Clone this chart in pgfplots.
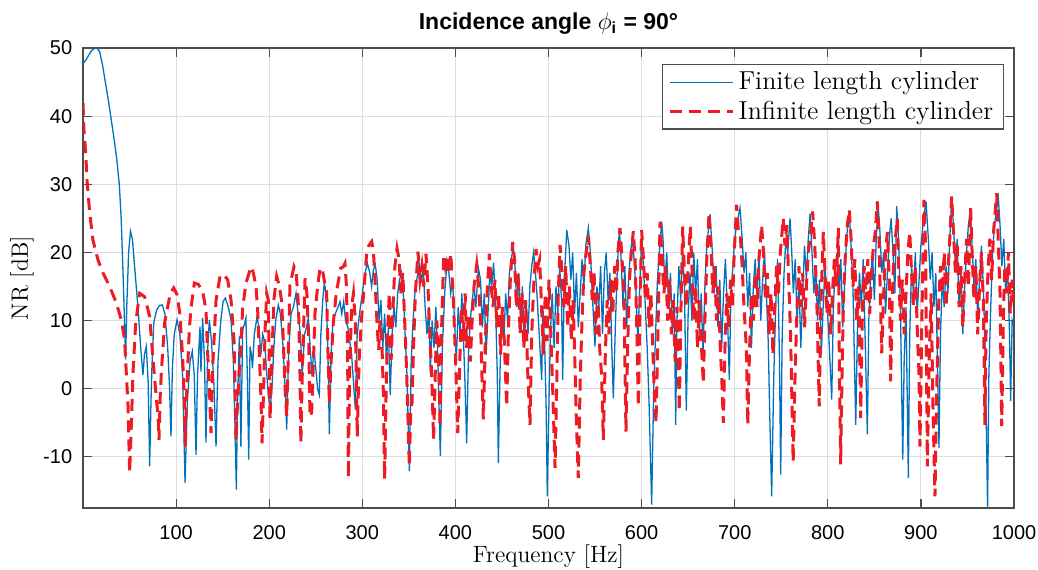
\documentclass[border=0pt]{standalone}
\usepackage{pgfplots}
\pgfplotsset{compat=1.18}
\usepackage{pgfplotstable}
\usepackage{amsmath}
\usepackage{fontspec}
\newfontfamily\hel{Liberation Sans}
\definecolor{mblue}{rgb}{0,0.447,0.741}
\definecolor{mred}{RGB}{237,28,36}
\begin{document}
\pgfplotstableread{
f y
0 47.7
3 48.2
6 48.9
9 49.6
12 49.9
15 50.0
18 49.4
21 47.5
24 45.0
27 42.5
30 39.8
33 37.0
36 34.0
39 30.0
41 25
43 17
45 8
45.8 4.3
47 12
49 20
51 23.1
53 22
56 17
59 12
62 6
64.4 2.0
66 5
68 6.2
70 1
71.6 -11.4
73 -2
74 3
76 9.7
79 11.5
82 12.2
85.2 12.3
88 11
91 6
93 0
94.5 -7.0
96 3
98 8
101 10.1
104 8
107 2
109.6 -13.8
112 -2
115 4
117.4 5.5
119.5 2
121.4 -9.7
123 2
125.7 9.1
126.7 2.5
128.5 10.4
130.5 4
132.1 -7.9
134 6
135.7 10.1
138 7
140.5 1
142.9 -8.5
145 4
148 10
150.5 12.8
152.9 13.3
156 12
159 10.1
161.5 4
163 -4
164.7 -14.8
166 -2
167.9 7.7
169.6 -8.5
171.5 8.7
173.5 9.5
175 10.4
176.5 2
178 -10.4
179.4 6.2
181 5
182 3
184 8
186.9 10.5
189 9
191 5
193 8
195 7
197 3
199 -1
201 -3
203 0.3
205 6
207 10
209.8 12.3
212 11
214.5 7
216.5 2
218.8 -6.0
221 6
223.5 11
226 12
228.8 14.0
231 11
233.5 8
235.5 2
238 8
240 9
242 10.4
244 6
246 2
248 6
250 3
252 0
253.8 -0.9
255.5 8
257.5 13
259.2 15.6
261 14
263 6
264.6 -6.7
266.5 5
268.5 10
271 11
274 12
276 12.8
278 11
280 12.8
282 10
284.5 9
286.5 7
288.5 5
290.5 1
292.5 -3
294.5 8
297 11
300 14
303 17
305.5 18.4
308 17
310 15
312 17.5
314 18.2
316 16
318 10
320 13
322 6
324 11
326 4
328 9
330 -0.9
332 8
334 12
336 9
338 14
340 16
342 17
344 14
346 8
348 2
350.5 -12.1
352.5 4
354.5 10
356.5 14
358.5 16
361.3 18.2
363.5 16
365.5 17.4
367.5 12
369.5 8
371.5 12
373 2.3
375 10
377 6
379 12
381 5
383.8 -9.9
386 6
388.5 14
391 18.7
393 17
395 14
397 16
399 10
401 4
403 12
405 8
407 14
409 6
410.5 0
412.1 -8
414 5
416 10
418 13
420 15
422 12
424.6 17.7
427 16
429 9
431 14
433 5
435 11
437 17
439 15
441 18.5
443 13
445 2
446.1 -10.9
448 3
450 11
452 7
454 14
456 10
458 17
460 19
462.2 20.9
464 18
466 12
468 17
470 10
472 15
474 6
476 13
478 8
480 15
482 18
484 20
486 17
488 13
490 8
492.7 1.3
494 12
496 6
497.5 -3
498.7 -15.8
500.5 -2
502 8
504 14
506 6
508 15
510 11
512 18
514 13
515.2 1.3
517 16
519.6 23.3
522 21
524 16
526 20
528 11
530 17
532 9
534 14
536 19
538 15
540 21
542.8 23.6
545 20
547 14
549.9 6.2
552 15
554 12
556 18
558 8
560 17
562 20
564 13
566 17
568 6
569.6 -1.4
572 10
574 18
576.1 23.5
578 19
580 12
582 18
584 9
586 16
588 20
590 22
592 19
594 14
596 7
598 15
600 22
602 18
604 12
606 6
608 -2
610.8 -17
613 0
615 8
617 16
619 20
621.6 24.5
623 22
625 15
627 20
629 12
631 17
633 8
635 14
636.6 -5.3
638 10
640 18
642 13
644 20
646 15
648 -3.2
650 11
652 17
654 10
656 20
658 14
660 19
662 8
664 14
666 5
668 15
670 21
673.5 25.6
676 20
678 14
680 18
682 9
684 16
686 6
688 14
690 19
692 12
694.2 1.3
696 14
698 18
700 22
702 24
705.7 26.5
708 22
710 17
712 20
714 12
716 17
718 6
720 15
722 19
724 13
726 20
728 10
730 16
732 20
734 14
736 7
737.5 -3
739.7 -15.8
742 2
744 12
746 19
748 5
749.4 -12.6
751 8
753 17
755 22
757 20
759.4 25
761 21
763 14
765 19
767 10
769 16
771 6
773 14
775 21
777 16
779 22
781 25.7
783 20
785 14
787 18
789 10
791 16
793 5
795 12
797 18
799 13
801 8
804.2 -1.6
806 12
808 18
810 20
812 14
814 19
816 9
818 15
820 22
823 26
825 21
827 15
830 -5.3
832 10
834 17
836 12
838 19
840 8
842.5 -6.7
844 10
846 16
848 20
850 13
852 22
854 27
856 23
858 17
860 20
862 11
864 17
866 22
868 25
870 20
872 14
874 26.8
876 22
878 12
880.5 -10.4
882 4
884 12
886.5 -13.1
888 8
890 18
892 14
894 20
896 11
898 16
900 21
903 25
905.5 27.5
908 22
910 16
912 20
914 12
916 17
919.4 -8.7
921 8
923 16
925 12
927 18
929 14
931 22
933 27.7
935 24
937 18
939 22
941 12
943 17
945 8
947 15
949 20
951 24
953 26
955 21
957 15
959 19
961 10
963 16
965 21
967 15
969 6
971.6 -17.5
973 2
975 12
977 20
979 24
981 26
983.2 28
985 24
987 18
989 22
991 14
993 18
995 9
996.4 -1.8
998 10
1000 9
}\finite
\pgfplotstableread{
f y
0 41.9
1 38
2.9 34.6
4.3 30.6
7.2 25.8
10.7 21.8
16.1 18.9
21.5 17
28.6 15
35.8 12.6
41.1 10.1
44.7 7.2
46.5 2.3
48.4 -2.6
50.1 -12.3
52 -5
53.7 2.3
56.6 9.7
60.9 14.0
66.2 13.5
71.6 10.6
75 4.7
78.5 -1
80.6 -4
81.6 -7.5
83 -1
84.1 2.3
87.7 9.7
93.8 14.0
97.4 14.8
101 13.8
104 11
107 4.7
108.8 -1.6
109.9 -8.5
111 -2
112.5 3.3
114.2 8.7
116 11.8
119.6 15.5
124 15.3
128.5 14.3
132.1 11.6
133.9 5.2
135.7 0.3
137.5 -6.5
139.3 3.3
142.9 13.0
147.2 16.5
151 16.8
155.4 16.0
159 13
162.5 6.5
164.3 -7.5
166 -2
168 3
169.7 6.5
171.5 11.8
175 15.5
180.5 17.9
183 17
185.8 15.0
187.6 11.6
189.4 5.2
191.2 -1.6
192.3 -8.0
194 0
195.6 8.7
197.3 14
199 13
200.9 -4.5
203 5
205 13
208 16.5
211 15
213.4 12.8
215.1 7.2
217 0.3
218.8 -4.1
220.5 5
222.3 15.2
226.6 17.9
229 17
231.5 12
233 3
234 -8
235.5 2
238.5 16.2
240.5 14
242.5 7
243.8 -4.1
245.6 -3.5
247.5 4
249.2 11.1
252 15
254.6 17.7
257 17.6
259 16
261.7 14
263 6
264.6 -2.1
266.5 4
268.9 9.7
272 14
276.8 17.7
279.6 17.9
281.4 18.4
283 15
284.2 6
285 -13.1
286.5 3
288.5 12
290.5 14
292.5 10
294.6 -7.0
296.5 4
299 10
302 15
304.7 19.9
307 21
310.1 21.6
312 20
314 15
316 9
317.6 5.7
319 10
321 7
322.5 0
324 -13.3
325.5 -1
327 8
329 14
331 4.2
333 12
335 18
337.3 20.6
339.5 19
341.5 14
343.5 17
345.5 10
347.5 3
349 -4
350.5 -11.4
352 -3
353.4 -2.1
355 6
357 14
359.8 20.1
362 16
364 18
366 15
368.4 19.8
370.5 15
372.5 8
374.5 2
376.6 -7.5
378.5 3
380 10
382 6
383.5 -5.5
385 8
387.4 19.4
389 18
391 19.6
393 17
395 19.8
397.5 14
400 5
402.5 -6.5
404.5 3
406.5 12
408.5 7
410.5 14
412 6
414 11
416 4
418 10
420 15
422.9 18.2
425 15
427 10
428.5 2
430 -4.5
432 6
434 14
436.4 19.8
438.5 15
440.5 12
442.5 16
444.5 9
446.5 14
448.5 5
450.5 12
452.5 7
455.1 -2.6
457 9
459 16
461.5 21.5
463.5 19
465.5 12
467.5 17
469.5 8
471.5 14
473.5 6
475.5 13
477.5 3
480.1 -5.3
482 8
484 15
486.6 20.5
488.5 18
490.5 19
492.5 12
494.5 5
496.5 14
498.5 7
500.5 16
502.5 8
504.5 0
507 -11.6
509 2
510.5 14
512.4 21.1
514.5 17
516.5 12
518.5 18
520.5 9
522.5 15
524.5 7
526.5 13
528.5 3
530 -5
532 -13.1
534 1
536 10
538 17
540.5 20
542.8 22.4
545 18
547 13
549 17
551 8
553 14
555 6
557 2
558.9 -7.5
561 5
563 13
565 8
567 16
569 11
571 18
573 14
574.5 20
576.8 23.6
579 19
581 14
583.2 -6.3
585 6
587 16
589 20
591.1 23.1
593 19
595 8
596.5 -2.6
598 10
600 23.3
602 19
604 13
606 17
608 9
610 14
612 6
613.5 0
615.5 -5
617.5 8
619.8 24.5
622 19
624 14
626 18
628 10
630 16
632 8
634 13
636 4
638 12
640.5 -3.3
642 10
644.1 23.8
646 17
648 12
650 18
652.3 23.8
654 18
656 10
658 15
660 6
662 13
664 7
666.3 0.8
668 10
670 19
672.4 25.8
674.5 21
676.5 14
678.5 18
680.5 10
682.5 15
684.5 6
686 2
687.8 -5
689.5 6
691.5 14
693.5 9
695.5 16
697.5 12
699.5 20
702.1 27
704 23
706 22.5
708 18
710 12
712.5 6
714 -5.3
716 6
718 14
720 10
722 17
724 12
726 19
728.9 24
731 20
733 13
735 17
737 8
739 14
741 5
743 12
745 18
747 14
749 20
752.1 25
754 21
756 24
758 16
760 8
762.8 -10.7
765 3
767 12
769 18
771 12
773 17
775 9
777 15
779 20
781 22
783.7 26
786 21
788 14
790.8 -2.6
792.5 12
795.2 23
797 17
799 11
801 16
803 8
805 14
807 19
809 15
811.3 23.6
812.5 2
813.8 -11.1
815.5 4
817 14
819 20
821 24
823.1 26.3
825 22
827 15
829 19
831 10
833 15
835.3 -4.3
837 10
839 18
841 13
843 19
845 11
847 17
849 21
851 23
853.2 27.5
855 22
857.9 5.2
860 14
862 20
864 23
866 16
867.5 1.1
869 12
871 20
874.7 25
876 18
878 10
880 16
882 8
884 14
886 20
888 23
890 17
892 12
894 18
896 9
898 2
899 -8.5
901 10
903.3 27.7
905 21
906.9 -11.4
909 5
911 14
913 -3
915.1 -15.8
917 0
919 12
921 18
923 14
925 20
927 12
929 17
931 22
933 28.2
935 23
937 17
939 21
941 12
943 18
945 9
947 16
949 22
951 15
953.4 26.5
955 20
957 13
959 18
961 8
963 15
965 20
967 13
968.7 -5.3
970 9
972 17
974 22
976 16
978 23
981.4 28.7
983 22
985 14
986.8 -5.5
988.5 10
990 18
992 14
994 20
996 11
998 16
1000 12
}\infinite
\begin{tikzpicture}
\begin{axis}[
  at={(0,0)}, anchor=south west,
  width=465.5pt, height=230pt, scale only axis,
  xmin=0, xmax=1000, ymin=-17.5, ymax=50,
  xtick={100,200,300,400,500,600,700,800,900,1000},
  xticklabels={100,200,300,400,500,600,700,800,900,1000},
  ytick={-10,0,10,20,30,40,50},
  yticklabels={-10,0,10,20,30,40,50},
  tick label style={font=\hel\fontsize{10}{12}\selectfont},
  xticklabel style={yshift=-5pt},
  yticklabel style={xshift=-1.9pt},
  tick align=inside, major tick length=4.5pt,
  xtick pos=both, ytick pos=both,
  grid=major, major grid style={color=black!13, line width=0.5pt},
  axis line style={black!70, line width=0.6pt},
  tick style={black!70, line width=0.6pt},
  xlabel={Frequency [Hz]}, ylabel={NR [dB]},
  xlabel style={at={(axis description cs:0.5,-0.1065)}, anchor=center, font=\fontsize{11.8}{14}\selectfont},
  ylabel style={at={(axis description cs:-0.0655,0.5)}, anchor=center, font=\fontsize{11.8}{14}\selectfont},
  title={\hel\bfseries Incidence angle $\phi_{\text{\hel\bfseries i}}$ = 90°},
  title style={at={(axis description cs:0.5,1.026)}, anchor=center, font=\fontsize{11.5}{13}\selectfont},
  legend style={at={(axis description cs:0.989,0.965)}, anchor=north east,
    draw=black!70, line width=0.6pt, fill=white,
    font=\fontsize{13}{15}\selectfont, inner xsep=3pt, inner ysep=1.5pt,
    row sep=0pt},
  legend cell align=left,
  legend image code/.code={\draw[#1] (0pt,0pt) -- (31.5pt,0pt);},
  clip=true,
]
\addplot[mblue, line width=0.65pt] table[x=f,y=y] {\finite};
\addlegendentry{Finite length cylinder}
\addplot[mred, line width=1.5pt, dash pattern=on 6pt off 3.5pt] table[x=f,y=y] {\infinite};
\addlegendentry{Infinite length cylinder}
\end{axis}
\pgfresetboundingbox
\useasboundingbox (-41.5pt,-30.5pt) rectangle (477.5pt,254pt);
\end{tikzpicture}
\end{document}
